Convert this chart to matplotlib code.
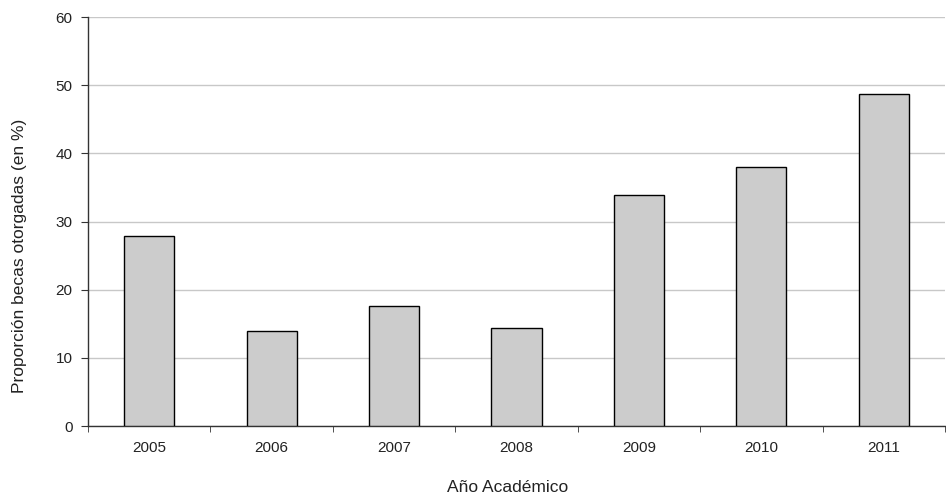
import matplotlib
matplotlib.use("Agg")
import matplotlib.pyplot as plt
import numpy as np

categories = ["2005", "2006", "2007", "2008", "2009", "2010", "2011"]
values = [27.8, 14.0, 17.6, 14.4, 33.9, 38.0, 48.7]
yticks = [0, 10, 20, 30, 40, 50, 60]

plt.rcParams['font.family'] = ['Liberation Sans', 'DejaVu Sans']

W, H = 946, 497
fig = plt.figure(figsize=(W/100, H/100), dpi=100)
ax = fig.add_axes([88/W, (H-426)/H, (945-88)/W, (426-17)/H])

x = np.arange(len(categories))
ax.bar(x, values, width=0.41, color="#cccccc", edgecolor="#000000", linewidth=1.0, zorder=3)

ax.set_xlim(-0.5, len(categories)-0.5)
ax.set_ylim(0, 60)
ax.set_yticks(yticks)
ax.set_yticklabels([str(t) for t in yticks], fontsize=11, color="#222222")
ax.yaxis.grid(True, color="#c8c8c8", linewidth=1.0, zorder=0)
ax.set_axisbelow(True)

ax.set_xticks(x)
ax.set_xticklabels(categories, fontsize=11, color="#222222")
ax.tick_params(axis='x', which='major', length=0, pad=11)
ax.set_xticks(np.arange(-0.5, len(categories)-0.4, 1.0), minor=True)
ax.tick_params(axis='x', which='minor', length=4, direction='out', color="#333333")
ax.tick_params(axis='y', length=5, direction='out', color="#333333", pad=6)

for s in ['top', 'right']:
    ax.spines[s].set_visible(False)
for s in ['left', 'bottom']:
    ax.spines[s].set_color("#333333")
    ax.spines[s].set_linewidth(1.0)

fig.text(508/W, 1 - 487/H, "Año Académico", fontsize=12.5, color="#222222",
         ha='center', va='center')
fig.text(20/W, 1 - 256/H, "Proporción becas otorgadas (en %)", fontsize=12.5,
         color="#222222", ha='center', va='center', rotation=90)

fig.savefig("out.png", dpi=100)
